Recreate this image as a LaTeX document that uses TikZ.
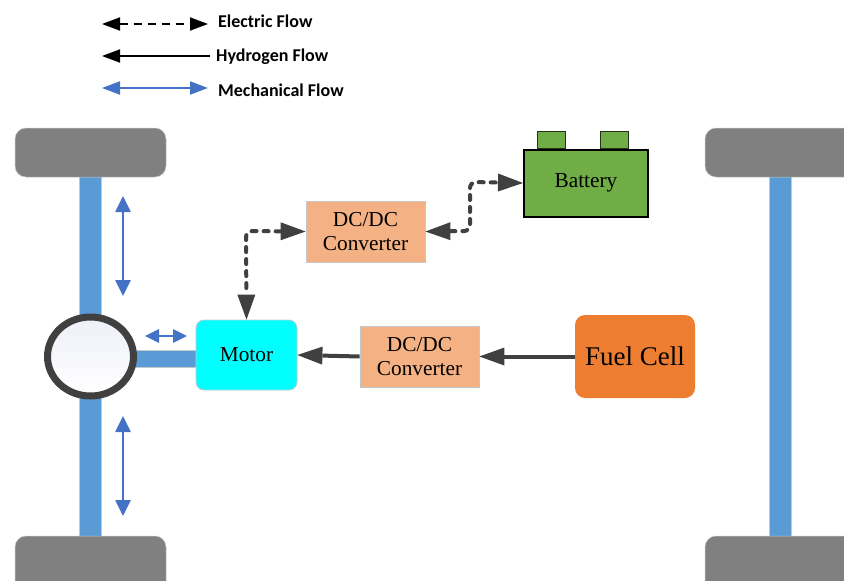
\documentclass[tikz,border=0pt]{standalone}
\usepackage{fontspec}
\setmainfont{Liberation Serif}
\newfontfamily\legendfont{Carlito}
\usetikzlibrary{arrows.meta,shapes.geometric}
\definecolor{wheelgray}{HTML}{808080}
\definecolor{axleblue}{HTML}{5B9BD5}
\definecolor{edgegray}{HTML}{C4C8CC}
\definecolor{flowdark}{HTML}{404040}
\definecolor{mechblue}{HTML}{4472C4}
\definecolor{peach}{HTML}{F4B183}
\definecolor{batgreen}{HTML}{70AD47}
\definecolor{fuelorange}{HTML}{ED7D31}
\definecolor{hubtop}{HTML}{EEF0F8}
\definecolor{motorcyan}{HTML}{00FFFF}
\tikzset{
  x=1pt,y=-1pt,
  box/.style={draw=edgegray,line width=0.8pt,minimum width=#1,inner sep=0pt,align=center,font=\fontsize{21.3}{24}\selectfont},
  wheel/.style={fill=wheelgray,draw=edgegray,line width=0.5pt,rounded corners=11pt},
  axle/.style={fill=axleblue,draw=edgegray,line width=0.5pt},
  conv/.style={box=119pt,fill=peach,minimum height=61pt},
  legendtext/.style={anchor=base west,inner sep=0pt,font=\legendfont\bfseries\fontsize{18}{20}\selectfont},
  elecend/.style={draw=flowdark,line width=4pt,dash pattern=on 5pt off 7pt,line cap=round,rounded corners=6pt,
    {Triangle[length=25pt,width=18pt,fill=flowdark,line width=0pt]}-{Triangle[length=25pt,width=18pt,fill=flowdark,line width=0pt]}},
  hyd/.style={draw=flowdark,line width=4pt,-{Triangle[length=25pt,width=18pt,fill=flowdark,line width=0pt]}},
  mech/.style={draw=mechblue,line width=2.6pt,{Triangle[length=16pt,width=15pt]}-{Triangle[length=16pt,width=15pt]}},
  mechshort/.style={draw=mechblue,line width=2.6pt,{Triangle[length=14pt,width=13pt]}-{Triangle[length=14pt,width=13pt]}},
  legmech/.style={draw=mechblue,line width=2pt,{Triangle[length=18pt,width=13pt]}-{Triangle[length=18pt,width=13pt]}},
  legelec/.style={draw=black,line width=1.8pt,dash pattern=on 8pt off 6pt,{Triangle[length=18pt,width=13pt]}-{Triangle[length=18pt,width=13pt]}},
  leghyd/.style={draw=black,line width=1.8pt,{Triangle[length=18pt,width=13pt]}-},
}
\begin{document}
\begin{tikzpicture}
\useasboundingbox (0,0) rectangle (844,581);
\clip (0,0) rectangle (844,581);
% legend
\coordinate (e1) at (102,24); \coordinate (e2) at (208,24);
\coordinate (h1) at (102,56); \coordinate (h2) at (210,56);
\coordinate (m1) at (102,88); \coordinate (m2) at (208,88);
\draw[legelec] (e1) -- (e2);
\draw[leghyd] (h1) -- (h2);
\draw[legmech] (m1) -- (m2);
\node[legendtext] (tElec) at (218,27) {Electric Flow};
\node[legendtext] (tHyd) at (216,61) {Hydrogen Flow};
\node[legendtext] (tMech) at (218,96) {Mechanical Flow};
% axles and wheels
\filldraw[axle] (79.7,170) rectangle (101.7,545);
\filldraw[axle] (769.7,170) rectangle (791.7,545);
\filldraw[axle] (125,350) rectangle (200,367);
\filldraw[wheel] (15,128) rectangle (166,177);
\filldraw[wheel] (15,536) rectangle (166,600);
\filldraw[wheel] (705,128) rectangle (870,177);
\filldraw[wheel] (705,536) rectangle (870,600);
\node[ellipse,draw=flowdark,line width=7pt,minimum width=86pt,minimum height=79pt,inner sep=0pt,
      top color=hubtop,bottom color=white] (hub) at (90.5,356.5) {};
% boxes
\node[box=101pt,fill=motorcyan,minimum height=70pt,rounded corners=8pt] (motor) at (246.5,355) {Motor};
\node[conv] (dcA) at (365.5,231.5) {DC/DC\\Converter};
\node[conv] (dcB) at (419.5,356.5) {DC/DC\\Converter};
\filldraw[fill=batgreen,draw=black!70!batgreen,line width=0.8pt] (537,131) rectangle (565,148);
\filldraw[fill=batgreen,draw=black!70!batgreen,line width=0.8pt] (600,131) rectangle (628,148);
\node[draw=black,line width=2pt,fill=batgreen,minimum width=124pt,minimum height=67pt,inner sep=0pt,font=\fontsize{21.3}{24}\selectfont] (battery) at (586,183) {Battery};
\node[fill=fuelorange,minimum width=120pt,minimum height=83pt,rounded corners=10pt,inner sep=0pt,font=\fontsize{27}{30}\selectfont] (fuel) at (635,356.5) {Fuel Cell};
% connectors
\draw[elecend] (dcA.west) -- (246,231) -- (motor.north);
\draw[elecend] (dcA.east) -- (470,231) -- (470,182) -- (battery.west);
\draw[hyd] (fuel.west) -- (dcB.east);
\draw[hyd] (dcB.west) -- (motor.east);
% mechanical arrows
\coordinate (a1) at (123,196); \coordinate (a2) at (123,296);
\coordinate (b1) at (123,416); \coordinate (b2) at (123,516);
\coordinate (c1) at (145,336); \coordinate (c2) at (187,336);
\draw[mech] (a1) -- (a2);
\draw[mech] (b1) -- (b2);
\draw[mechshort] (c1) -- (c2);
\end{tikzpicture}
\end{document}
